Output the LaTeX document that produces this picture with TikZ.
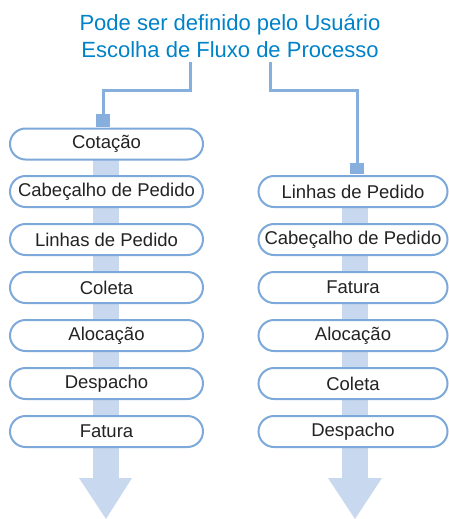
\documentclass[tikz,border=0pt]{standalone}
\usepackage{fontspec}
\setmainfont{Liberation Sans}
\begin{document}
\begin{tikzpicture}[x=1pt,y=-1pt,
  boxst/.style={draw=boxblue, line width=2pt, fill=white, rounded corners=15.5pt,
    minimum height=31pt, inner sep=0pt, text=textgray, font=\fontsize{18.5}{20}\selectfont},
  conn/.style={draw=connblue, line width=3pt}]
\definecolor{boxblue}{RGB}{125,168,218}
\definecolor{connblue}{RGB}{135,175,222}
\definecolor{shaftblue}{RGB}{200,216,238}
\definecolor{titleblue}{RGB}{0,130,200}
\definecolor{textgray}{RGB}{35,35,35}
\useasboundingbox (0,0) rectangle (448,519);
% shafts and arrowheads
\fill[shaftblue] (93,150) rectangle (119,479);
\fill[shaftblue] (79,478) -- (132,478) -- (106,519) -- cycle;
\fill[shaftblue] (342,195) rectangle (368,479);
\fill[shaftblue] (328,478) -- (382,478) -- (355,519) -- cycle;
% title
\node[text=titleblue, font=\fontsize{22}{27}\selectfont, align=center] (title) at (230,36)
  {Pode ser definido pelo Usuário\\Escolha de Fluxo de Processo};
% left column
\foreach \n/\t/\y in {l1/Cotação/144, l2/Cabeçalho de Pedido/191.5, l3/Linhas de Pedido/239.5,
  l4/Coleta/287.5, l5/Alocação/335.5, l6/Despacho/383.5, l7/Fatura/431.5}
  \node[boxst, minimum width=193pt] (\n) at (106.5,\y) {\t};
% right column
\foreach \n/\t/\y in {r1/Linhas de Pedido/191.5, r2/Cabeçalho de Pedido/239.5, r3/Fatura/287.5,
  r4/Alocação/335.5, r5/Coleta/383.5, r6/Despacho/431.5}
  \node[boxst, minimum width=189pt] (\n) at (353,\y) {\t};
% connectors
\coordinate (ls) at (190,62);
\coordinate (rs) at (270,62);
\draw[conn] (ls) -- (190,90) -- (103,90) -- (103,115);
\fill[connblue] (96,114) rectangle (110,127);
\draw[conn] (rs) -- (270,90) -- (357,90) -- (357,164);
\fill[connblue] (350,163) rectangle (364,174);
\end{tikzpicture}
\end{document}
